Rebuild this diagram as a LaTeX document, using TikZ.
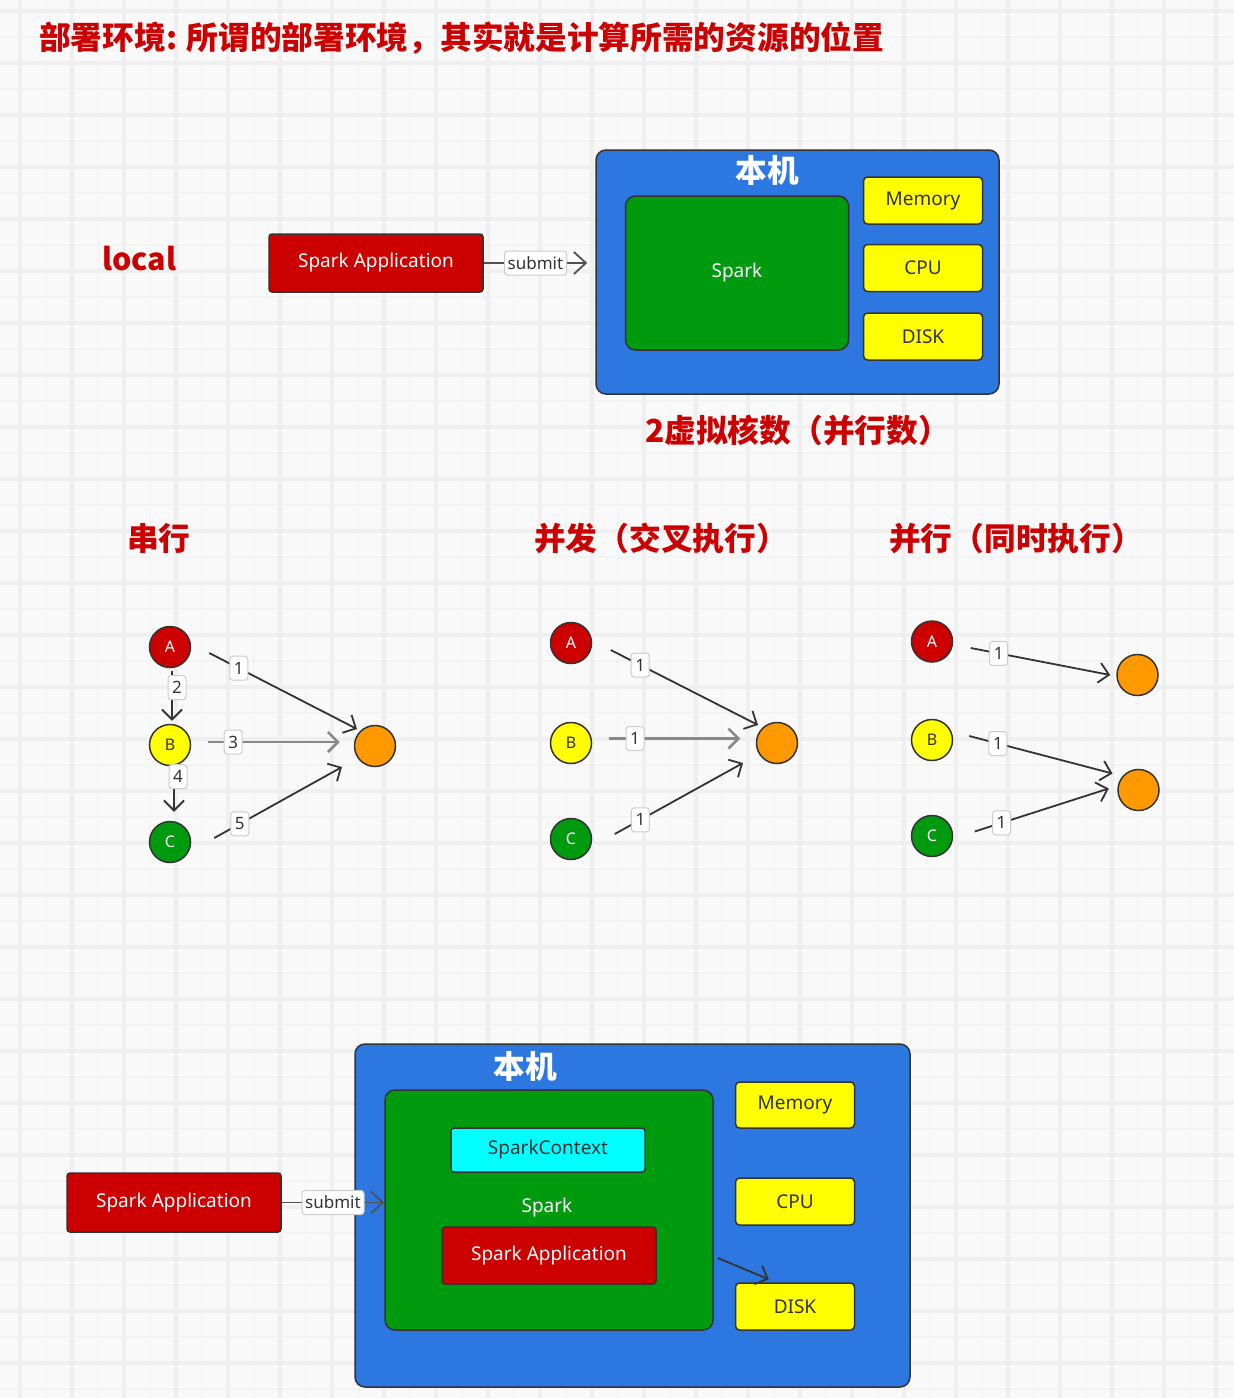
\documentclass[tikz,border=0pt]{standalone}
\usepackage{fontspec}
\setmainfont{Noto Sans}
\newfontfamily\cjk{Noto Sans CJK SC}
\usetikzlibrary{arrows.meta,calc}
\definecolor{bgc}{HTML}{F9F9F9}
\definecolor{gridA}{HTML}{EFEFEF}
\definecolor{gridB}{HTML}{F4F4F4}
\definecolor{sred}{HTML}{CC0000}
\definecolor{sblue}{HTML}{2D77E0}
\definecolor{sgreen}{HTML}{009A0E}
\definecolor{syellow}{HTML}{FFFF00}
\definecolor{scyan}{HTML}{00FFFF}
\definecolor{sorange}{HTML}{FF9900}
\definecolor{bord}{HTML}{333333}
\definecolor{egray}{HTML}{888888}
\definecolor{lbord}{HTML}{CCCCCC}
\tikzset{
  box/.style={draw=bord, line width=1.5pt, inner sep=0pt, align=center},
  redbox/.style={box, fill=sred, text=white, rounded corners=3pt, font=\fontsize{19}{22}\selectfont},
  bluebox/.style={box, fill=sblue, rounded corners=10pt},
  greenbox/.style={box, fill=sgreen, text=white, rounded corners=10pt, font=\fontsize{19}{22}\selectfont},
  yelbox/.style={box, fill=syellow, text=bord, rounded corners=4pt, minimum width=119pt, font=\fontsize{19}{22}\selectfont},
  cyanbox/.style={box, fill=scyan, text=bord, rounded corners=3pt, font=\fontsize{19}{22}\selectfont},
  redtitle/.style={text=sred, inner sep=0pt, font=\cjk\bfseries\fontsize{31.7}{34}\selectfont},
  hosttitle/.style={text=white, inner sep=0pt, font=\cjk\bfseries\fontsize{31.7}{34}\selectfont},
  cnode/.style={circle, draw=bord, line width=1.5pt, minimum size=41pt, inner sep=0pt, font=\fontsize{16}{18}\selectfont},
  gedge/.style={draw=bord, line width=1.8pt, -{Straight Barb[length=10pt,width=20pt]}},
  gedgeg/.style={gedge, draw=egray, line width=2.5pt},
  subedge/.style={draw=bord!85, line width=1.8pt, -{Straight Barb[length=12pt,width=22pt]}},
  elab/.style={fill=white, draw=lbord, line width=1pt, rounded corners=3pt, minimum width=18pt, minimum height=24pt, inner sep=2pt, text=bord, font=\fontsize{17}{20}\selectfont},
  sublab/.style={elab, minimum width=62pt}
}
\begin{document}
\begin{tikzpicture}[x=1pt,y=-1pt]
\useasboundingbox (0,0) rectangle (1234,1398);
\fill[bgc] (0,0) rectangle (1234,1398);
\foreach \gx in {46,98,...,1234} \draw[gridB, line width=2pt] (\gx,0) -- (\gx,1398);
\foreach \gy in {37,89,...,1398} \draw[gridB, line width=2pt] (0,\gy) -- (1234,\gy);
\foreach \gx in {20,72,...,1234} \draw[gridA, line width=4pt] (\gx,0) -- (\gx,1398);
\foreach \gy in {11,63,...,1398} \draw[gridA, line width=4pt] (0,\gy) -- (1234,\gy);

% titles
\node[redtitle, anchor=west] (title) at (39,38) {部署环境: 所谓的部署环境，其实就是计算所需的资源的位置};
\node[text=sred, inner sep=0pt, anchor=base west, font=\cjk\bfseries\fontsize{30.5}{33}\selectfont] (local) at (102,270) {local};
\node[redtitle, anchor=west] (cores) at (645,430) {2虚拟核数（并行数）};
\node[redtitle, anchor=west] (ser) at (127,538) {串行};
\node[redtitle, anchor=west] (conc) at (534,538) {并发（交叉执行）};
\node[redtitle, anchor=west] (par) at (889,538) {并行（同时执行）};

% top diagram
\node[redbox, minimum width=214pt, minimum height=58pt] (sa1) at (376,263) {Spark Application};
\node[bluebox, minimum width=403pt, minimum height=244pt] (blue1) at (797.5,272) {};
\node[hosttitle] (host1) at (767,170) {本机};
\node[greenbox, minimum width=223pt, minimum height=154pt] (green1) at (737,273) {Spark};
\node[yelbox, minimum height=47pt] (mem1) at (923,200.5) {Memory};
\node[yelbox, minimum height=47pt] (cpu1) at (923,268) {CPU};
\node[yelbox, minimum height=47pt] (disk1) at (923,336.5) {DISK};
\draw[subedge] (sa1.east) -- node[sublab, pos=.5] (sub1) {submit} ($(blue1.west |- sa1.east)+(-8,0)$);

% serial
\node[cnode, fill=sred, text=white] (a1) at (170,647) {A};
\node[cnode, fill=syellow, text=bord] (b1) at (170,745) {B};
\node[cnode, fill=sgreen, text=white] (c1) at (170,842) {C};
\node[cnode, fill=sorange] (o1) at (375,746) {};
\draw[gedge] ([shift={(18,6)}]a1.east) -- node[elab, pos=.2] (l11) {1} ([shift={(-18,-17)}]o1.center);
\draw[gedge] ([shift={(2,3)}]a1.south) -- node[elab, pos=.33, xshift=5pt] (l12) {2} ([shift={(2,-3)}]b1.north);
\draw[gedgeg] ([shift={(17,-3)}]b1.east) -- node[elab, pos=.19] (l13) {3} ([shift={(-14,-4)}]o1.west);
\draw[gedge] ([shift={(4,0)}]b1.south) -- node[elab, pos=.23, xshift=4pt] (l14) {4} ([shift={(4,-9)}]c1.north);
\draw[gedge] ([shift={(23,-4)}]c1.east) -- node[elab, pos=.2] (l15) {5} ([shift={(-33,21)}]o1.center);

% concurrent
\node[cnode, fill=sred, text=white] (a2) at (571,643) {A};
\node[cnode, fill=syellow, text=bord] (b2) at (571,743) {B};
\node[cnode, fill=sgreen, text=white] (c2) at (571,839) {C};
\node[cnode, fill=sorange] (o2) at (777,743) {};
\draw[gedge] ([shift={(18.5,7)}]a2.east) -- node[elab, pos=.2] (l21) {1} ([shift={(-19,-18)}]o2.center);
\draw[gedgeg] ([shift={(16.5,-4.5)}]b2.east) -- node[elab, pos=.2] (l22) {1} ([shift={(-15.5,-4.5)}]o2.west);
\draw[gedge] ([shift={(22.5,-5)}]c2.east) -- node[elab, pos=.2] (l23) {1} ([shift={(-34,20)}]o2.center);

% parallel
\node[cnode, fill=sred, text=white] (a3) at (932,641.5) {A};
\node[cnode, fill=syellow, text=bord] (b3) at (932,740) {B};
\node[cnode, fill=sgreen, text=white] (c3) at (932,836) {C};
\node[cnode, fill=sorange] (o3) at (1137.5,675) {};
\node[cnode, fill=sorange] (o4) at (1138.5,790) {};
\draw[gedge] ([shift={(17.5,6.5)}]a3.east) -- node[elab, pos=.2] (l31) {1} ([shift={(-6,0)}]o3.west);
\draw[gedge] ([shift={(16,-4)}]b3.east) -- node[elab, pos=.2] (l32) {1} ([shift={(-26,-16.5)}]o4.center);
\draw[gedge] ([shift={(21.5,-4.5)}]c3.east) -- node[elab, pos=.2] (l33) {1} ([shift={(-8.5,-1.5)}]o4.west);

% bottom diagram
\node[redbox, minimum width=214pt, minimum height=59pt] (sa2) at (174,1202.5) {Spark Application};
\node[bluebox, minimum width=555pt, minimum height=343pt] (blue2) at (632.5,1215.5) {};
\node[hosttitle] (host2) at (525,1066) {本机};
\node[greenbox, minimum width=328pt, minimum height=240pt] (green2) at (549,1210) {};
\node[text=white, inner sep=0pt, font=\fontsize{19}{22}\selectfont] (sparklbl) at (547,1208) {Spark};
\node[cyanbox, minimum width=194pt, minimum height=44pt] (sc) at (548,1150) {SparkContext};
\node[redbox, minimum width=214pt, minimum height=57pt] (sa3) at (549,1255.5) {Spark Application};
\node[yelbox, minimum height=46pt] (mem2) at (795,1105) {Memory};
\node[yelbox, minimum height=47pt] (cpu2) at (795,1201.5) {CPU};
\node[yelbox, minimum height=47pt] (disk2) at (795,1306.5) {DISK};
\draw[subedge] (sa2.east) -- node[sublab, pos=.5] (sub2) {submit} (green2.west |- sa2.east);
\draw[gedge] ([shift={(4,48)}]green2.east) -- ([shift={(34,-3)}]disk2.north west);
\end{tikzpicture}
\end{document}
